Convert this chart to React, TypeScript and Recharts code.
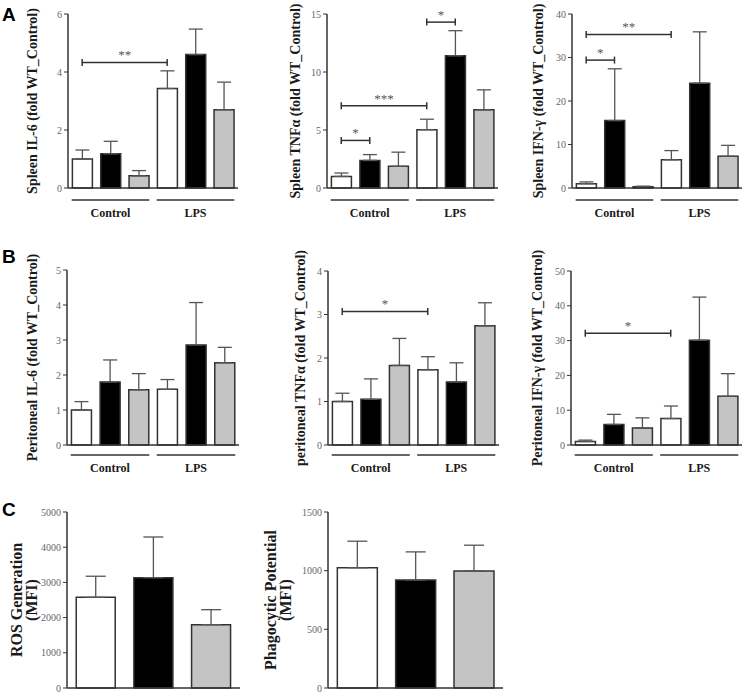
import React from "react";
import { BarChart, Bar, XAxis, YAxis, ErrorBar, Cell, ReferenceLine } from "recharts";

// groups under the x axis (rows A and B)
const groups = ["Control", "LPS"];
const categories6 = ["Control-1", "Control-2", "Control-3", "LPS-1", "LPS-2", "LPS-3"];
const categories3 = ["1", "2", "3"];
const barFills = ["#ffffff", "#000000", "#c4c4c4"];

// A - spleen
const spleenIL6 = [1.0, 1.18, 0.42, 3.43, 4.6, 2.7];
const spleenIL6Sem = [0.31, 0.43, 0.18, 0.61, 0.88, 0.95];
const spleenIL6Ticks = [0, 2, 4, 6];
const spleenTNF = [1.0, 2.38, 1.87, 5.03, 11.4, 6.74];
const spleenTNFSem = [0.29, 0.5, 1.22, 0.9, 2.16, 1.72];
const spleenTNFTicks = [0, 5, 10, 15];
const spleenIFN = [1.0, 15.5, 0.3, 6.5, 24.1, 7.3];
const spleenIFNSem = [0.4, 11.9, 0.12, 2.1, 11.8, 2.5];
const spleenIFNTicks = [0, 10, 20, 30, 40];

// B - peritoneal
const periIL6 = [1.0, 1.8, 1.58, 1.59, 2.86, 2.35];
const periIL6Sem = [0.24, 0.63, 0.46, 0.28, 1.21, 0.44];
const periIL6Ticks = [0, 1, 2, 3, 4, 5];
const periTNF = [1.0, 1.05, 1.83, 1.73, 1.45, 2.74];
const periTNFSem = [0.19, 0.47, 0.62, 0.3, 0.44, 0.53];
const periTNFTicks = [0, 1, 2, 3, 4];
const periIFN = [1.0, 5.9, 4.9, 7.6, 30.1, 14.0];
const periIFNSem = [0.4, 2.9, 2.9, 3.6, 12.4, 6.5];
const periIFNTicks = [0, 10, 20, 30, 40, 50];

// C
const ros = [2575, 3135, 1800];
const rosSem = [600, 1155, 425];
const rosTicks = [0, 1000, 2000, 3000, 4000, 5000];
const phago = [1025, 920, 997];
const phagoSem = [226, 240, 220];
const phagoTicks = [0, 500, 1000, 1500];

// significance brackets
const spleenIL6Sig = [{ from: "Control-1", to: "LPS-1", y: 4.33, label: "**" }];
const spleenTNFSig = [
  { from: "Control-1", to: "Control-2", y: 4.1, label: "*" },
  { from: "Control-1", to: "LPS-1", y: 7.1, label: "***" },
  { from: "LPS-1", to: "LPS-2", y: 14.3, label: "*" },
];
const spleenIFNSig = [
  { from: "Control-1", to: "Control-2", y: 29.4, label: "*" },
  { from: "Control-1", to: "LPS-1", y: 35.3, label: "**" },
];
const periTNFSig = [{ from: "Control-1", to: "LPS-1", y: 3.07, label: "*" }];
const periIFNSig = [{ from: "Control-1", to: "LPS-1", y: 32.1, label: "*" }];

type Sig = { from: string; to: string; y: number; label: string };

const toRows = (cats: string[], vals: number[], sems: number[]) =>
  cats.map((c, i) => ({ name: c, value: vals[i], err: [0, sems[i]] }));

const serif = "Liberation Serif";
const ink = "#333";

const axisTitle = (lines: string[], offsets: number[], size: number) => (props: any) => {
  const vb = props.viewBox;
  if (!vb) return null;
  const cy = vb.y + vb.height / 2;
  return (
    <g>
      {lines.map((t, i) => {
        const x = vb.x + offsets[i];
        return (
          <text
            key={i}
            x={x}
            y={cy}
            transform={`rotate(-90 ${x} ${cy})`}
            textAnchor="middle"
            dominantBaseline="central"
            fontFamily={serif}
            fontWeight="bold"
            fontSize={size}
            fill="#1a1a1a"
          >
            {t}
          </text>
        );
      })}
    </g>
  );
};

const groupTick = (half: number, lineDy: number, textDy: number) => (props: any) => {
  const { x, y, payload } = props;
  const idx = categories6.indexOf(payload.value);
  if (idx % 3 !== 1) return <g />;
  return (
    <g>
      <line x1={x - half} x2={x + half} y1={y + lineDy} y2={y + lineDy} stroke={ink} strokeWidth={1.5} />
      <text x={x} y={y + textDy} textAnchor="middle" fontFamily={serif} fontWeight="bold" fontSize={12} fill="#1a1a1a">
        {groups[Math.floor(idx / 3)]}
      </text>
    </g>
  );
};

const bracket = (label: string) => (p: any) => (
  <g>
    <line x1={p.x1} y1={p.y1} x2={p.x2} y2={p.y2} stroke={ink} strokeWidth={1.5} />
    <line x1={p.x1} x2={p.x1} y1={p.y1 - 3.5} y2={p.y1 + 3.5} stroke={ink} strokeWidth={1.5} />
    <line x1={p.x2} x2={p.x2} y1={p.y2 - 3.5} y2={p.y2 + 3.5} stroke={ink} strokeWidth={1.5} />
    <text x={(p.x1 + p.x2) / 2} y={p.y1 - 3} textAnchor="middle" fontFamily={serif} fontSize={13} fill="#555">
      {label}
    </text>
  </g>
);

type PanelProps = {
  box: { left: number; top: number; width: number; height: number };
  axisX: number;
  plotTop: number;
  plotBottom: number;
  plotRight: number;
  rows: { name: string; value: number; err: number[] }[];
  ticks: number[];
  title: string[];
  titleOffsets: number[];
  titleSize: number;
  sig?: Sig[];
  grouped: boolean;
  lineDy?: number;
  textDy?: number;
  cap: number;
  gap: string;
  tickFont: number;
};

function Panel(p: PanelProps) {
  const yw = p.axisX - p.box.left;
  const xh = p.box.top + p.box.height - p.plotBottom;
  const plotW = p.plotRight - p.axisX;
  const band = plotW / p.rows.length;
  return (
    <div style={{ position: "absolute", left: p.box.left, top: p.box.top }}>
      <BarChart
        width={p.box.width}
        height={p.box.height}
        data={p.rows}
        margin={{ top: p.plotTop - p.box.top, right: p.box.left + p.box.width - p.plotRight, left: 0, bottom: 0 }}
        barCategoryGap={p.gap}
      >
        <XAxis
          dataKey="name"
          type="category"
          height={xh}
          interval={0}
          tickSize={0}
          tickMargin={0}
          tickLine={false}
          axisLine={{ stroke: ink, strokeWidth: 1.5 }}
          tick={p.grouped ? groupTick(band * 1.37, p.lineDy ?? 12, p.textDy ?? 29) : false}
        />
        <YAxis
          type="number"
          width={yw}
          domain={[0, p.ticks[p.ticks.length - 1]]}
          ticks={p.ticks}
          interval={0}
          tickSize={4}
          tickMargin={2}
          axisLine={{ stroke: ink, strokeWidth: 1.5 }}
          tickLine={{ stroke: ink }}
          tick={{ fontFamily: serif, fontSize: p.tickFont, fill: "#666" }}
          label={axisTitle(p.title, p.titleOffsets, p.titleSize)}
        />
        <Bar dataKey="value" stroke={ink} strokeWidth={1.5} isAnimationActive={false}>
          {p.rows.map((r, i) => (
            <Cell key={r.name} fill={barFills[i % 3]} />
          ))}
          <ErrorBar dataKey="err" direction="y" width={p.cap} stroke="#555" strokeWidth={1.3} isAnimationActive={false} />
        </Bar>
        {(p.sig ?? []).map((s, i) => (
          <ReferenceLine
            key={i}
            segment={[
              { x: s.from, y: s.y },
              { x: s.to, y: s.y },
            ]}
            shape={bracket(s.label)}
          />
        ))}
      </BarChart>
    </div>
  );
}

export default function App() {
  return (
    <div style={{ position: "absolute", left: 0, top: 0, width: 747, height: 695, background: "#fff", overflow: "hidden" }}>
      {/* row A */}
      <Panel
        box={{ left: 0, top: 0, width: 245, height: 230 }}
        axisX={68} plotTop={14} plotBottom={188} plotRight={238}
        rows={toRows(categories6, spleenIL6, spleenIL6Sem)} ticks={spleenIL6Ticks}
        title={["Spleen IL-6 (fold WT_Control)"]} titleOffsets={[32]} titleSize={14}
        sig={spleenIL6Sig} grouped cap={7} gap="15.5%" tickFont={10}
      />
      <Panel
        box={{ left: 250, top: 0, width: 250, height: 230 }}
        axisX={327} plotTop={14} plotBottom={188} plotRight={498}
        rows={toRows(categories6, spleenTNF, spleenTNFSem)} ticks={spleenTNFTicks}
        title={["Spleen TNFα (fold WT_Control)"]} titleOffsets={[45]} titleSize={14}
        sig={spleenTNFSig} grouped cap={7} gap="15.5%" tickFont={10}
      />
      <Panel
        box={{ left: 495, top: 0, width: 250, height: 230 }}
        axisX={572} plotTop={14} plotBottom={188} plotRight={742}
        rows={toRows(categories6, spleenIFN, spleenIFNSem)} ticks={spleenIFNTicks}
        title={["Spleen IFN-γ (fold WT_Control)"]} titleOffsets={[43]} titleSize={14}
        sig={spleenIFNSig} grouped cap={7} gap="15.5%" tickFont={10}
      />
      {/* row B */}
      <Panel
        box={{ left: 0, top: 250, width: 245, height: 240 }}
        axisX={67} plotTop={270} plotBottom={445} plotRight={239}
        rows={toRows(categories6, periIL6, periIL6Sem)} ticks={periIL6Ticks}
        title={["Peritoneal IL-6 (fold  WT_Control)"]} titleOffsets={[32]} titleSize={14}
        grouped lineDy={10} textDy={27} cap={7} gap="15.5%" tickFont={10}
      />
      <Panel
        box={{ left: 250, top: 250, width: 250, height: 240 }}
        axisX={328} plotTop={271} plotBottom={445} plotRight={499}
        rows={toRows(categories6, periTNF, periTNFSem)} ticks={periTNFTicks}
        title={["peritoneal TNFα (fold WT_Control)"]} titleOffsets={[50]} titleSize={14}
        sig={periTNFSig} grouped lineDy={10} textDy={27} cap={7} gap="15.5%" tickFont={10}
      />
      <Panel
        box={{ left: 495, top: 250, width: 250, height: 240 }}
        axisX={571} plotTop={271} plotBottom={445} plotRight={742}
        rows={toRows(categories6, periIFN, periIFNSem)} ticks={periIFNTicks}
        title={["Peritoneal IFN-γ (fold WT_Control)"]} titleOffsets={[42]} titleSize={14}
        sig={periIFNSig} grouped lineDy={10} textDy={27} cap={7} gap="15.5%" tickFont={10}
      />
      {/* row C */}
      <Panel
        box={{ left: 0, top: 495, width: 245, height: 200 }}
        axisX={67} plotTop={512} plotBottom={688} plotRight={240}
        rows={toRows(categories3, ros, rosSem)} ticks={rosTicks}
        title={["ROS Generation", "(MFI)"]} titleOffsets={[16, 31]} titleSize={16}
        grouped={false} cap={10} gap="16%" tickFont={10}
      />
      <Panel
        box={{ left: 240, top: 495, width: 270, height: 200 }}
        axisX={328} plotTop={512} plotBottom={688} plotRight={503}
        rows={toRows(categories3, phago, phagoSem)} ticks={phagoTicks}
        title={["Phagocytic Potential", "(MFI)"]} titleOffsets={[30, 45]} titleSize={16}
        grouped={false} cap={10} gap="16%" tickFont={10}
      />
      <svg width={747} height={695} style={{ position: "absolute", left: 0, top: 0, pointerEvents: "none" }}>
        <g fontFamily="Liberation Sans" fontWeight="bold" fontSize={19} fill="#000">
          <text x={2} y={21}>A</text>
          <text x={2} y={263}>B</text>
          <text x={2} y={516}>C</text>
        </g>
      </svg>
    </div>
  );
}
